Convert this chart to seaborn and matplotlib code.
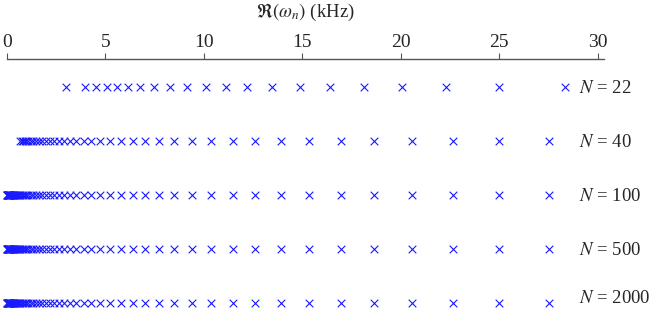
import pandas as pd
import matplotlib
matplotlib.use("Agg")
import matplotlib.pyplot as plt
import seaborn as sns

# -----------------------------
# Data (kHz)
# -----------------------------
row_labels = ["22", "40", "100", "500", "2000"]

modes_22 = [2.98, 3.96, 4.52, 5.07, 5.60, 6.16, 6.77, 7.48, 8.27, 9.13, 10.10,
            11.11, 12.21, 13.48, 14.89, 16.41, 18.13, 20.09, 22.31, 25.00, 28.35]

# upper modes shared by N = 40 ... 2000
modes_upper = [4.73, 5.23, 5.78, 6.39, 7.03, 7.74, 8.50, 9.42, 10.37, 11.47,
               12.62, 13.92, 15.36, 16.96, 18.66, 20.58, 22.68, 25.00, 27.56]

# crowded low modes of N = 40
modes_low_40 = [4.29, 3.89, 3.53, 3.20, 2.90, 2.63, 2.39, 2.17, 1.96, 1.78,
                1.62, 1.47, 1.33, 1.21, 1.09, 0.99, 0.90, 0.82, 0.74, 0.67]

# further low modes that pile up at zero for N >= 100
modes_tail = [0.61, 0.55, 0.50, 0.45, 0.41, 0.37, 0.34, 0.31, 0.28, 0.25,
              0.23, 0.21, 0.19, 0.17, 0.155, 0.14, 0.125, 0.11, 0.10, 0.09,
              0.08, 0.07, 0.06, 0.05, 0.04, 0.03, 0.02, 0.01, 0.0]

x_ticks = [0, 5, 10, 15, 20, 25, 30]

rows = {
    "22": modes_22,
    "40": modes_upper + modes_low_40,
    "100": modes_upper + modes_low_40 + modes_tail,
    "500": modes_upper + modes_low_40 + modes_tail,
    "2000": modes_upper + modes_low_40 + modes_tail,
}

df = pd.DataFrame(
    [(f, i) for i, lab in enumerate(row_labels) for f in rows[lab]],
    columns=["freq", "row"],
)

# -----------------------------
# Plot
# -----------------------------
sns.set_theme(style="white")
plt.rcParams["font.family"] = ["Liberation Serif", "DejaVu Serif"]
plt.rcParams["mathtext.fontset"] = "stix"

fig = plt.figure(figsize=(6.54, 3.10), dpi=100)
ax = fig.add_axes([7 / 654, 0.0, 597 / 654, 251 / 310])

sns.scatterplot(data=df, x="freq", y="row", marker="x", color="#1a1aff",
                s=30, linewidth=0.8, clip_on=False, ax=ax, legend=False)

for i, lab in enumerate(row_labels):
    # last label sits a bit higher so it stays inside the figure
    y = i - 0.12 if i == len(row_labels) - 1 else i
    ax.text(29.07, y, rf"$N$ = {lab}", fontsize=13.5, va="center_baseline",
            ha="left", clip_on=False)

ax.set_xlim(0, 30.33)
ax.set_ylim(4.13, -0.5185)
ax.set_yticks([])
ax.set_ylabel("")

ax.xaxis.tick_top()
ax.xaxis.set_label_position("top")
ax.set_xticks(x_ticks)
ax.set_xticklabels([str(t) for t in x_ticks])
ax.tick_params(axis="x", top=True, bottom=False, direction="out", length=4,
               width=0.8, color="#555555", labelsize=14, pad=2)
ax.set_xlabel(r"$\Re(\omega_n)$ (kHz)", fontsize=13.5, labelpad=12)

for side in ["left", "right", "bottom"]:
    ax.spines[side].set_visible(False)
ax.spines["top"].set_color("#555555")
ax.spines["top"].set_linewidth(1.0)

fig.savefig("out.png", dpi=100)
